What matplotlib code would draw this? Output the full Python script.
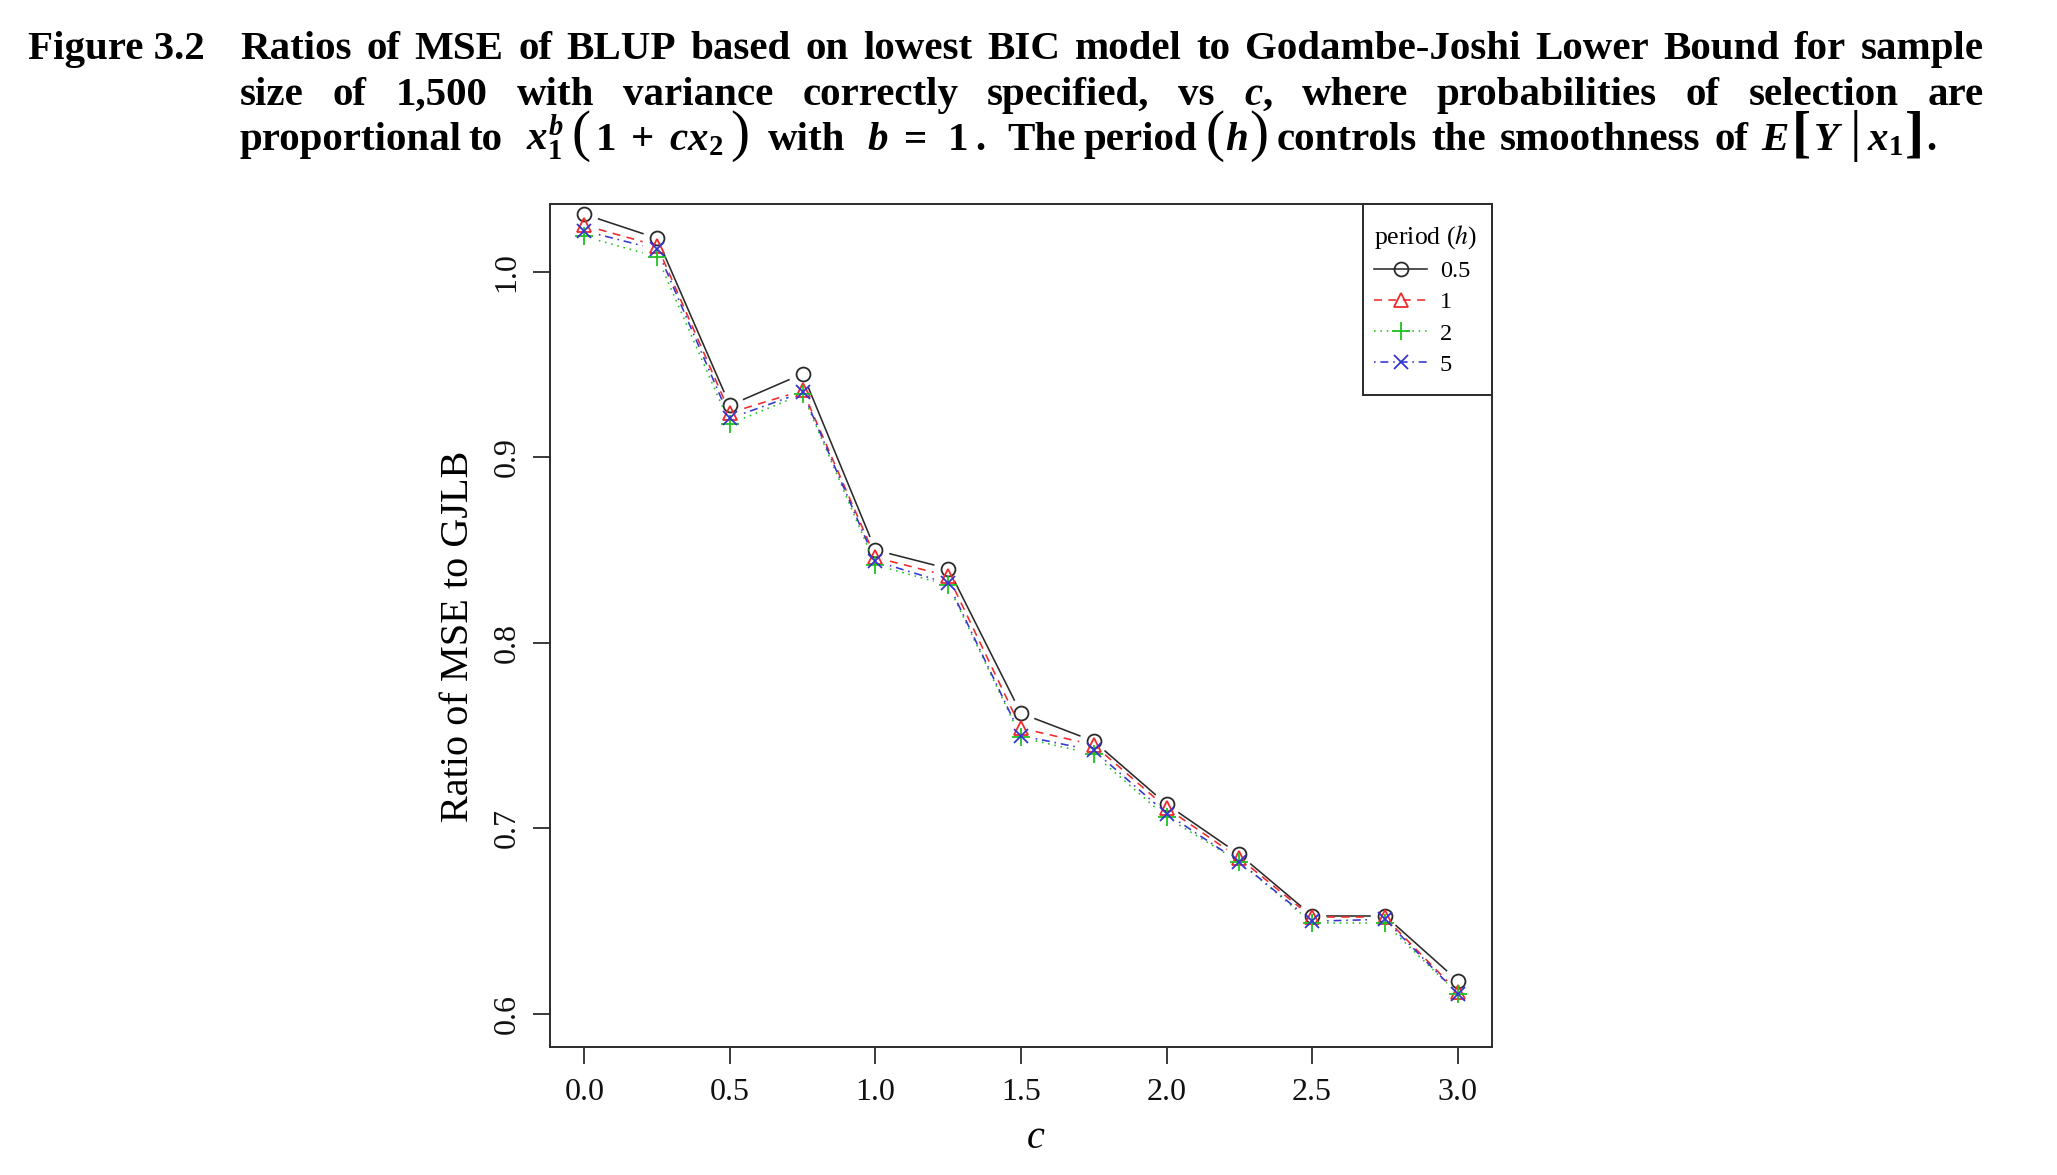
import numpy as np
import matplotlib
matplotlib.use('Agg')
import matplotlib.pyplot as plt
from matplotlib.lines import Line2D
from matplotlib.patches import Rectangle
from matplotlib.font_manager import FontProperties

# ---------------- data ----------------
c_values = [0.0, 0.25, 0.5, 0.75, 1.0, 1.25, 1.5, 1.75, 2.0, 2.25, 2.5, 2.75, 3.0]
ratio_h05 = [1.031, 1.018, 0.928, 0.945, 0.850, 0.840, 0.762, 0.747, 0.713, 0.686, 0.653, 0.653, 0.618]
ratio_h1 = [1.025, 1.014, 0.924, 0.936, 0.846, 0.836, 0.754, 0.745, 0.711, 0.684, 0.652, 0.652, 0.612]
ratio_h2 = [1.019, 1.008, 0.918, 0.934, 0.842, 0.831, 0.749, 0.740, 0.706, 0.682, 0.649, 0.649, 0.611]
ratio_h5 = [1.022, 1.012, 0.921, 0.935, 0.844, 0.832, 0.750, 0.742, 0.708, 0.682, 0.650, 0.651, 0.611]
period_labels = ['0.5', '1', '2', '5']
x_ticks = [0.0, 0.5, 1.0, 1.5, 2.0, 2.5, 3.0]
x_tick_labels = ['0.0', '0.5', '1.0', '1.5', '2.0', '2.5', '3.0']
y_ticks = [0.6, 0.7, 0.8, 0.9, 1.0]
y_tick_labels = ['0.6', '0.7', '0.8', '0.9', '1.0']

title_line1 = "Ratios of MSE of BLUP based on lowest BIC model to Godambe-Joshi Lower Bound for sample"
title_line2 = "size of 1,500 with variance correctly specified, vs $c$, where probabilities of selection are"

# ---------------- style ----------------
plt.rcParams['font.family'] = ['Liberation Serif', 'DejaVu Serif']
plt.rcParams['mathtext.fontset'] = 'custom'
plt.rcParams['mathtext.rm'] = 'Liberation Serif:bold'
plt.rcParams['mathtext.it'] = 'Liberation Serif:italic:bold'
plt.rcParams['mathtext.bf'] = 'Liberation Serif:bold'
plt.rcParams['mathtext.fallback'] = 'stix'

W, H = 2057, 1175
fig = plt.figure(figsize=(W / 100, H / 100), dpi=100)
renderer = fig.canvas.get_renderer()

# ---------------- caption ----------------
TFS = 29.5
tkw = dict(fontsize=TFS, fontweight='bold', family='Liberation Serif')
fig.text(28 / W, 1 - 59 / H, "Figure 3.2", va='baseline', ha='left', **tkw)


def justify(text, x0, x1, ybase):
    words = text.split(' ')
    ts = [fig.text(0, 1 - ybase / H, w, va='baseline', ha='left', **tkw) for w in words]
    widths = [t.get_window_extent(renderer).width for t in ts]
    gap = (x1 - x0 - sum(widths)) / (len(words) - 1)
    x = x0
    for t, w in zip(ts, widths):
        t.set_x(x / W)
        x += w + gap


def flow(pieces, x0, ybase):
    x = x0
    for gap, s, kw in pieces:
        x += gap
        t = fig.text(x / W, 1 - ybase / H, s, va='baseline', ha='left', **kw)
        x += t.get_window_extent(renderer).width


justify(title_line1, 240, 1984, 59)
justify(title_line2, 240, 1984, 105)

big_paren = dict(fontsize=TFS * 1.4, fontweight='normal', family='Liberation Serif')
big_brack = dict(fontsize=TFS * 1.4, fontweight='bold', family='Liberation Serif')
line3 = [
    (0, "proportional", tkw),
    (6, "to", tkw),
    (24, r"$x_1^b$", tkw),
    (7, "(", big_paren),
    (5, r"$1\;+\;cx_2$", tkw),
    (7, ")", big_paren),
    (18, "with", tkw),
    (22, r"$b$", tkw),
    (16, "=", tkw),
    (20, "1", tkw),
    (7, ".", tkw),
    (22, "The", tkw),
    (8, "period", tkw),
    (8, "(", big_paren),
    (1, r"$h$", tkw),
    (1, ")", big_paren),
    (9, "controls", tkw),
    (14, "the", tkw),
    (14, "smoothness", tkw),
    (14, "of", tkw),
    (13, r"$E$", tkw),
    (3, "[", big_brack),
    (2, r"$Y$", tkw),
    (6, "|", big_paren),
    (6, r"$x_1$", tkw),
    (2, "]", big_brack),
    (2, ".", tkw),
]
flow(line3, 240, 150)

# ---------------- axes ----------------
ax_l, ax_r, ax_t, ax_b = 550, 1492, 204, 1047
ax = fig.add_axes([ax_l / W, 1 - ax_b / H, (ax_r - ax_l) / W, (ax_b - ax_t) / H])
ax.set_xlim(-0.118, 3.118)
ax.set_ylim(0.5822, 1.0365)

spine_col = '#2b2b2b'
for s in ax.spines.values():
    s.set_linewidth(1.4)
    s.set_color(spine_col)

ax.set_xticks(x_ticks, x_tick_labels)
ax.set_yticks(y_ticks, y_tick_labels)
ax.tick_params(axis='both', length=12.5, width=1.3, color=spine_col, labelsize=23, labelcolor='#111111')
ax.tick_params(axis='x', pad=10)
ax.tick_params(axis='y', pad=8)
for lbl in ax.get_yticklabels():
    lbl.set_rotation(90)
    lbl.set_va('center')
    lbl.set_ha('right')

ax.set_xlabel('c', fontsize=29, fontstyle='italic', va='baseline')
ax.xaxis.set_label_coords((1036 - ax_l) / (ax_r - ax_l), -(1148 - ax_b) / (ax_b - ax_t))
ax.set_ylabel('Ratio of MSE to GJLB', fontsize=29, va='center')
ax.yaxis.set_label_coords(-(ax_l - 459) / (ax_r - ax_l), (ax_b - 636) / (ax_b - ax_t))

series = [ratio_h05, ratio_h1, ratio_h2, ratio_h5]
colors = ['#2a2a2a', '#ee2a2a', '#1fc41f', '#3535d0']
lstyles = ['-', (0, (5, 4)), (0, (1, 3)), (0, (1, 3, 5, 3))]
markers = ['o', '^', '+', 'x']
msizes = [10, 10, 13, 10]
LW = 1.15
GAP = 15  # pixels: R type="b" gap around points

trans = ax.transData
inv = trans.inverted()
for vals, col, ls, mk, ms in zip(series, colors, lstyles, markers, msizes):
    pts = trans.transform(np.column_stack([c_values, vals]))
    for i in range(len(pts) - 1):
        p0, p1 = pts[i], pts[i + 1]
        d = p1 - p0
        L = np.hypot(*d)
        if L > 2 * GAP:
            u = d / L
            seg = inv.transform(np.array([p0 + u * GAP, p1 - u * GAP]))
            ax.plot(seg[:, 0], seg[:, 1], color=col, linestyle=ls, linewidth=LW)
    ax.plot(c_values, vals, linestyle='none', marker=mk, markersize=ms,
            markerfacecolor='none', markeredgecolor=col, markeredgewidth=1.3)

handles = [Line2D([], [], color=col, linestyle=ls, linewidth=LW, marker=mk, markersize=ms,
                  markerfacecolor='none', markeredgecolor=col, markeredgewidth=1.3)
           for col, ls, mk, ms in zip(colors, lstyles, markers, msizes)]
VEXTRA = 8  # extra vertical padding (px) inside the legend frame, R style
leg = ax.legend(handles, period_labels, loc='upper right',
                bbox_to_anchor=(1 - 4 / (ax_r - ax_l), 1 - VEXTRA / (ax_b - ax_t)), borderaxespad=0,
                title='period ($h$)',
                title_fontproperties=FontProperties(family='Liberation Serif', size=18.5,
                                                    math_fontfamily='stix'),
                prop=FontProperties(family='Liberation Serif', size=17.5),
                frameon=False,
                handlelength=2.2, handletextpad=0.5, labelspacing=0.38,
                borderpad=0.45)
leg._legend_box.align = 'left'
leg.set_zorder(6)
lb = leg.get_window_extent(renderer)
frame_bottom = lb.y0 - VEXTRA
ax_top_px = H - ax_t
frame = Rectangle((lb.x0 / W, frame_bottom / H), (ax_r - lb.x0) / W,
                  (ax_top_px - frame_bottom) / H, transform=fig.transFigure,
                  facecolor='white', edgecolor=spine_col, linewidth=1.4, zorder=5,
                  clip_on=False)
ax.add_patch(frame)

fig.savefig('out.png', dpi=100, facecolor='white')
